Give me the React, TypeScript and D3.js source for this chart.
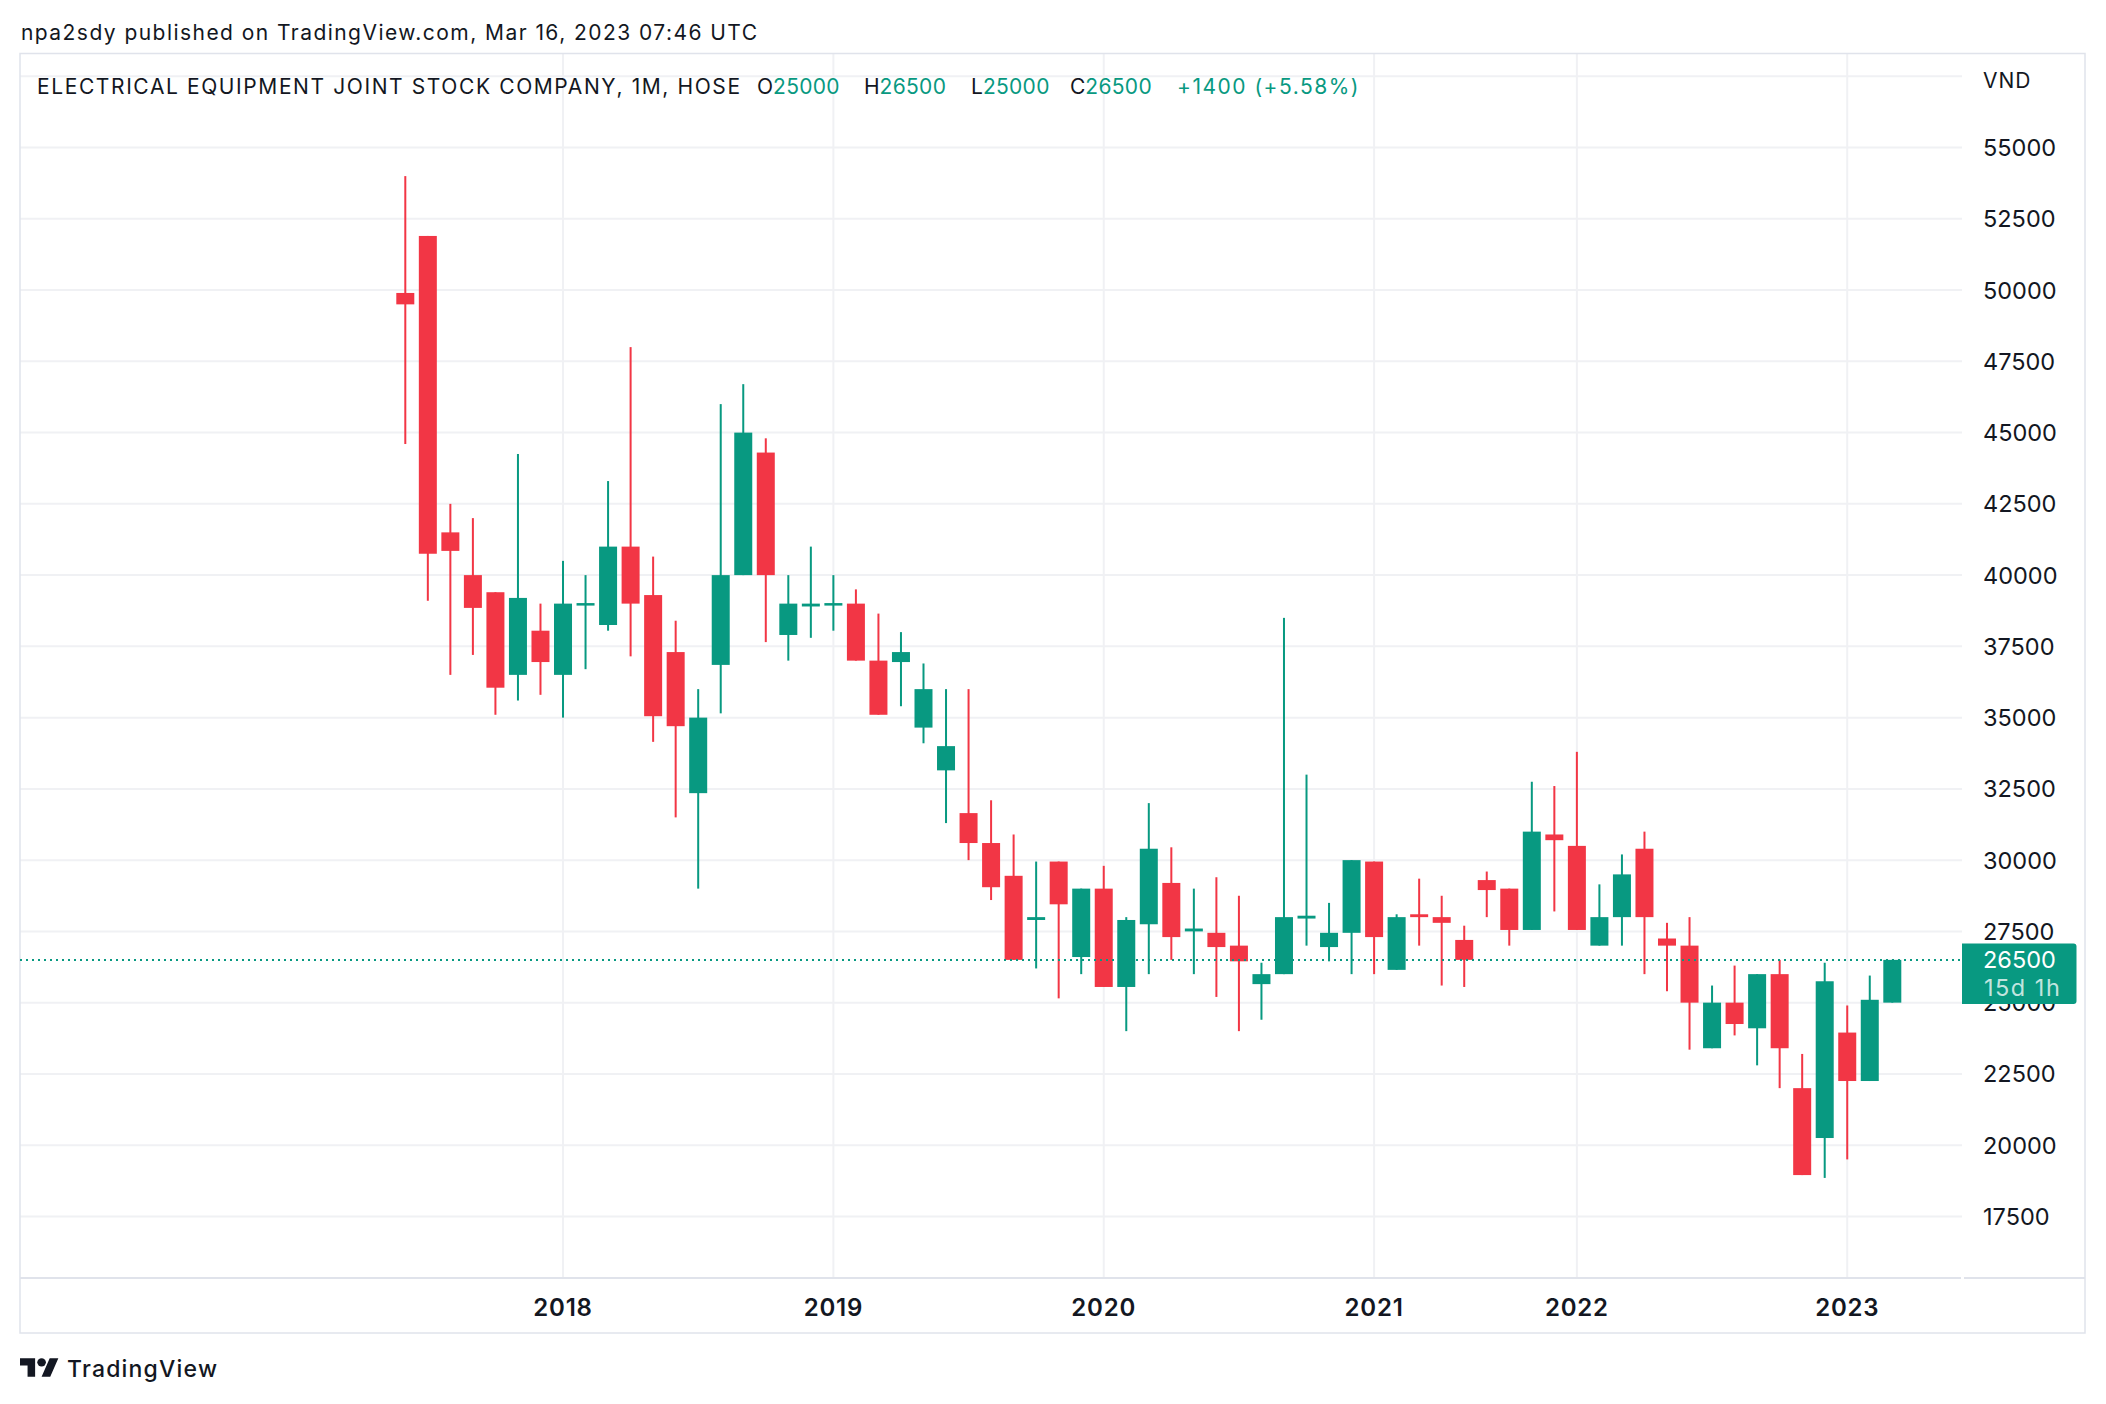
import React from "react";
import * as d3 from "d3";

// ---------- data (monthly OHLC, VND) ----------
const dates = [
  "2017-06","2017-07","2017-08","2017-09","2017-10","2017-11","2017-12",
  "2018-01","2018-02","2018-03","2018-04","2018-05","2018-06","2018-07","2018-08","2018-09","2018-10","2018-11","2018-12",
  "2019-01","2019-02","2019-03","2019-04","2019-05","2019-06","2019-07","2019-08","2019-09","2019-10","2019-11","2019-12",
  "2020-01","2020-02","2020-03","2020-04","2020-05","2020-06","2020-07","2020-08","2020-09","2020-10","2020-11","2020-12",
  "2021-01","2021-05","2021-06","2021-07","2021-08","2021-09","2021-10","2021-11","2021-12",
  "2022-01","2022-02","2022-03","2022-04","2022-05","2022-06","2022-07","2022-08","2022-09","2022-10","2022-11","2022-12",
  "2023-01","2023-02","2023-03",
];
const opens = [
  49900,51900,41500,40000,39400,36500,38050,
  36500,38950,38250,41000,39300,37300,32350,36850,40000,44300,37900,38900,
  38950,39000,37000,36950,34650,33150,31650,30600,29450,27900,29950,26600,
  29000,25550,27750,29200,27500,27450,27000,25650,26000,27950,26950,27450,
  29950,26150,28100,28000,27200,29300,29000,27550,30900,
  30500,27000,28000,30400,27250,27000,23400,25000,24100,26000,22000,20250,
  23950,22250,25000,
];
const highs = [
  54000,51900,42500,42000,39400,44250,39000,
  40500,40000,43300,48000,40650,38400,36000,46000,46700,44800,40000,41000,
  40000,39500,38650,38000,36900,36000,36000,32100,30900,29950,29950,29000,
  29800,28000,32000,30450,29000,29400,28750,26400,38500,33000,28500,30000,
  29950,28100,29350,28750,27700,29600,29000,32750,32600,
  33800,29150,30200,31000,27800,28000,25600,26300,26000,26500,23200,26400,
  24900,25950,26500,
];
const lows = [
  44600,39100,36500,37200,35100,35600,35800,
  35000,36700,38050,37150,34150,31500,29000,35150,40000,37650,37000,37800,
  38050,37000,35100,35400,34100,31300,30000,28600,26500,26200,25150,26000,
  25550,24000,26000,26500,26000,25200,24000,24400,26000,27000,26450,26000,
  26000,26150,27000,25600,25550,28000,27000,27550,28200,
  27550,27000,27000,26000,25400,23350,23400,23850,22800,22000,18950,18850,
  19500,22250,25000,
];
const closes = [
  49500,40750,40850,38850,36050,39200,36950,
  39000,39000,41000,39000,35050,34700,35000,40000,45000,40000,39000,39000,
  39000,37000,35100,37300,36000,34000,30600,29050,26500,28000,28450,29000,
  25550,27900,30400,27300,27600,26950,26450,26000,28000,28050,27450,30000,
  27300,28000,28000,27800,26500,28950,27550,31000,30700,
  27550,28000,29500,28000,27000,25000,25000,24250,26000,23400,18950,25750,
  22250,25100,26500,
];

const priceTicks = [17500, 20000, 22500, 25000, 27500, 30000, 32500, 35000, 37500, 40000, 42500, 45000, 47500, 50000, 52500, 55000];
const gridExtra = [57500];
const lastPrice = 26500;
const countdown = "15d 1h";
const headerText = "npa2sdy published on TradingView.com, Mar 16, 2023 07:46 UTC";
const symbolTitle = "ELECTRICAL EQUIPMENT JOINT STOCK COMPANY, 1M, HOSE";
const ohlcLabel = { o: "25000", h: "26500", l: "25000", c: "26500", chg: "+1400 (+5.58%)" };

// ---------- style ----------
const UP = "#089981";
const DOWN = "#F23645";
const TEXT = "#131722";
const GRID = "#f0f1f4";
const BORDER = "#e0e3eb";
const FONT = "Inter, 'Noto Sans', sans-serif";

const W = 2106, H = 1404;
const plotL = 20, plotR = 1962, plotT = 53.5, plotB = 1278, frameR = 2085, frameB = 1333;

export default function App() {
  const x = d3.scalePoint<string>().domain(dates).range([405.3, 1892.3]);
  const y = d3.scaleLinear().domain([17500, 55000]).range([1216.4, 147.6]);
  const bodyW = 18;

  const yearTicks = dates.filter((d) => d.endsWith("-01"));

  return (
    <svg width={W} height={H} style={{ position: "absolute", left: 0, top: 0, background: "#fff" }} fontFamily={FONT}>
      <rect x={0} y={0} width={W} height={H} fill="#fff" />
      {/* header */}
      <text x={21} y={40} fontSize={21} letterSpacing={1.45} fill={TEXT}>{headerText}</text>

      {/* grid */}
      {[...priceTicks, ...gridExtra].map((v) => (
        <line key={"h" + v} x1={plotL} x2={plotR} y1={y(v)} y2={y(v)} stroke={GRID} strokeWidth={2} />
      ))}
      {yearTicks.map((d) => (
        <line key={"v" + d} x1={x(d)} x2={x(d)} y1={plotT} y2={plotB} stroke={GRID} strokeWidth={2} />
      ))}

      {/* frame */}
      <rect x={plotL} y={plotT} width={frameR - plotL} height={frameB - plotT} fill="none" stroke={BORDER} strokeWidth={1.5} />
      <line x1={plotL} x2={plotR - 1} y1={plotB} y2={plotB} stroke={BORDER} strokeWidth={2} />
      <line x1={plotR + 2} x2={frameR} y1={plotB} y2={plotB} stroke={BORDER} strokeWidth={2} />

      {/* title */}
      <text y={94} fontSize={21} fill={TEXT}>
        <tspan x={37} letterSpacing={1.6}>{symbolTitle}</tspan>
        <tspan x={757}>O</tspan><tspan fill={UP} letterSpacing={0.3}>{ohlcLabel.o}</tspan>
        <tspan x={864}>H</tspan><tspan fill={UP} letterSpacing={0.3}>{ohlcLabel.h}</tspan>
        <tspan x={971}>L</tspan><tspan fill={UP} letterSpacing={0.3}>{ohlcLabel.l}</tspan>
        <tspan x={1070}>C</tspan><tspan fill={UP} letterSpacing={0.3}>{ohlcLabel.c}</tspan>
        <tspan x={1177} fill={UP} letterSpacing={1.5}>{ohlcLabel.chg}</tspan>
      </text>

      {/* candles */}
      {dates.map((d, i) => {
        const o = opens[i], c = closes[i], h = highs[i], l = lows[i];
        const col = c >= o ? UP : DOWN;
        const cx = x(d)!;
        const top = y(Math.max(o, c));
        const bot = y(Math.min(o, c));
        const bh = Math.max(2.5, bot - top);
        return (
          <g key={d}>
            <rect x={cx - 1} y={y(h)} width={2} height={Math.max(1, y(l) - y(h))} fill={col} />
            <rect x={cx - bodyW / 2} y={bh === bot - top ? top : (top + bot) / 2 - bh / 2} width={bodyW} height={bh} fill={col} />
          </g>
        );
      })}

      {/* last price line */}
      <line x1={plotL} x2={plotR} y1={y(lastPrice)} y2={y(lastPrice)} stroke={UP} strokeWidth={2} strokeDasharray="2 4" />

      {/* price axis */}
      <text x={1983} y={80} dy="0.36em" fontSize={21} letterSpacing={1} fill={TEXT}>VND</text>
      {priceTicks.map((v) => (
        <text key={"t" + v} x={1983} y={y(v)} dy="0.36em" fontSize={23.5} fill={TEXT}>{v}</text>
      ))}
      <path
        d={`M1962 ${y(lastPrice) - 16.5} H2073.5 a3 3 0 0 1 3 3 V${y(lastPrice) + 41.2} a3 3 0 0 1 -3 3 H1962 Z`}
        fill={UP}
      />
      <text x={1983} y={y(lastPrice)} dy="0.36em" fontSize={23.5} fill="#fff">{lastPrice}</text>
      <text x={1984} y={y(lastPrice) + 28} dy="0.36em" fontSize={23.5} letterSpacing={1.5} fill="#fff" fillOpacity={0.75}>{countdown}</text>

      {/* time axis */}
      {yearTicks.map((d) => (
        <text key={"y" + d} x={x(d)} y={1307} dy="0.36em" textAnchor="middle" fontSize={24} fontWeight={600} letterSpacing={0.8} fill={TEXT}>
          {d.slice(0, 4)}
        </text>
      ))}

      {/* footer logo */}
      <g transform="translate(20,1354.2) scale(1.08,1.02)" fill={TEXT}>
        <path d="M14 22H7V11H0V4h14v18zM28 22h-8l7.5-18h8L28 22z" />
        <circle cx={20} cy={8} r={4} />
      </g>
      <text x={67} y={1377} fontSize={23} fontWeight={500} letterSpacing={1.2} fill={TEXT}>TradingView</text>
    </svg>
  );
}
